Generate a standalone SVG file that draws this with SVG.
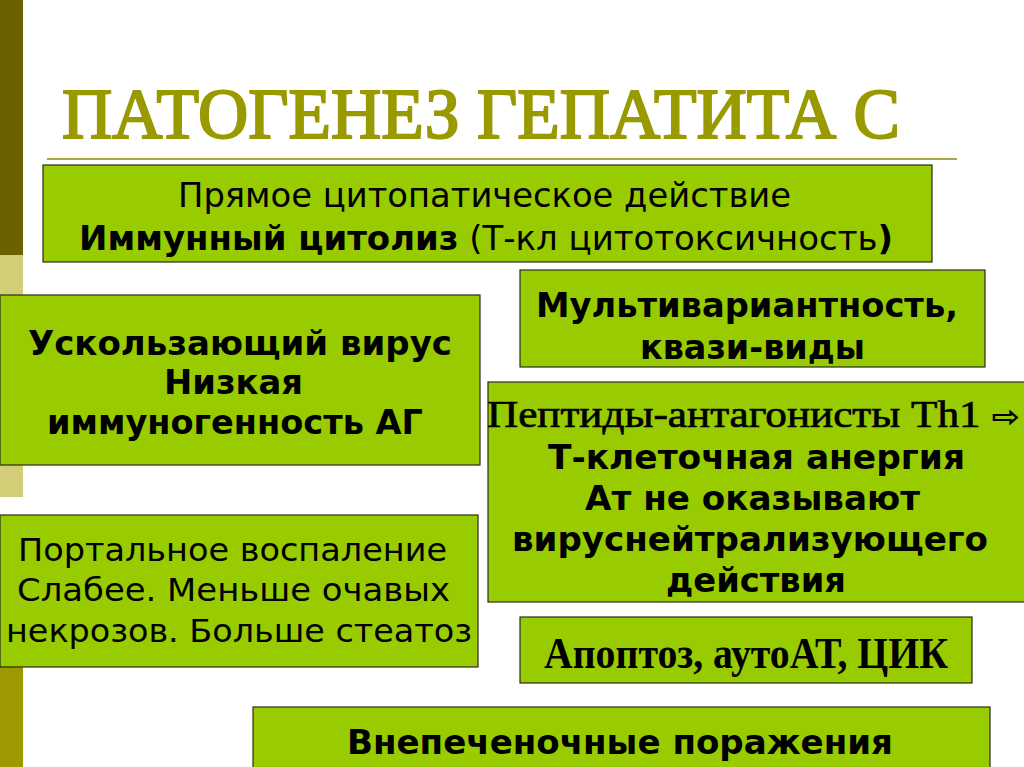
<svg xmlns="http://www.w3.org/2000/svg" width="1024" height="767" viewBox="0 0 1024 767">
<style>
.box{fill:#99cc00;stroke:#2b2b1a;stroke-width:1.2}
.s{font-family:"DejaVu Sans","Liberation Sans",sans-serif;fill:#000}
.b{font-weight:bold}
.t{font-family:"Liberation Serif","DejaVu Serif",serif;fill:#000}
</style>
<rect x="0" y="0" width="1024" height="767" fill="#ffffff"/>
<g id="leftbar">
<rect x="0" y="0" width="23" height="255" fill="#6b6100"/>
<rect x="0" y="255" width="23" height="242" fill="#d2ce78"/>
<rect x="0" y="667" width="23" height="100" fill="#9c9a00"/>
</g>
<g id="title">
<text x="62" y="138" font-family="Liberation Serif,serif" font-size="71" fill="#999900" stroke="#999900" stroke-width="2" textLength="838" lengthAdjust="spacingAndGlyphs">ПАТОГЕНЕЗ ГЕПАТИТА С</text>
<line x1="47" y1="159" x2="957" y2="159" stroke="#a9a54a" stroke-width="2"/>
</g>
<g id="connectors"></g>
<g id="nodeA">
<rect class="box" x="43" y="165" width="889" height="97"/>
<text class="s" x="178" y="207" font-size="33" textLength="613" lengthAdjust="spacingAndGlyphs">Прямое цитопатическое действие</text>
<text class="s" x="79" y="250" font-size="33" textLength="814" lengthAdjust="spacingAndGlyphs"><tspan font-weight="bold">Иммунный цитолиз</tspan> (Т-кл цитотоксичность<tspan font-weight="bold">)</tspan></text>
</g>
<g id="nodeB">
<rect class="box" x="520" y="270" width="465" height="97"/>
<text class="s b" x="536" y="317" font-size="33" textLength="422" lengthAdjust="spacingAndGlyphs">Мультивариантность,</text>
<text class="s b" x="640" y="359" font-size="33" textLength="225" lengthAdjust="spacingAndGlyphs">квази-виды</text>
</g>
<g id="nodeC">
<rect class="box" x="0" y="295" width="480" height="170"/>
<text class="s b" x="28" y="355" font-size="33" textLength="424" lengthAdjust="spacingAndGlyphs">Ускользающий вирус</text>
<text class="s b" x="164" y="394" font-size="33" textLength="139" lengthAdjust="spacingAndGlyphs">Низкая</text>
<text class="s b" x="47" y="434" font-size="33" textLength="376" lengthAdjust="spacingAndGlyphs">иммуногенность АГ</text>
</g>
<g id="nodeD">
<rect class="box" x="488" y="382" width="540" height="220"/>
<text class="t" x="487" y="427" font-size="38" stroke="#000" stroke-width="0.7" textLength="533" lengthAdjust="spacingAndGlyphs">Пептиды-антагонисты Th1 <tspan font-family="DejaVu Sans,sans-serif" font-size="30" font-weight="bold" stroke-width="0">⇨</tspan></text>
<text class="s b" x="548" y="469" font-size="33" textLength="417" lengthAdjust="spacingAndGlyphs">Т-клеточная анергия</text>
<text class="s b" x="585" y="510" font-size="33" textLength="335" lengthAdjust="spacingAndGlyphs">Ат не оказывают</text>
<text class="s b" x="512" y="551" font-size="33" textLength="476" lengthAdjust="spacingAndGlyphs">вируснейтрализующего</text>
<text class="s b" x="666" y="592" font-size="33" textLength="180" lengthAdjust="spacingAndGlyphs">действия</text>
</g>
<g id="nodeE">
<rect class="box" x="0" y="515" width="478" height="152"/>
<text class="s" x="18" y="561" font-size="32" textLength="429" lengthAdjust="spacingAndGlyphs">Портальное воспаление</text>
<text class="s" x="17" y="601" font-size="32" textLength="433" lengthAdjust="spacingAndGlyphs">Слабее. Меньше очавых</text>
<text class="s" x="6" y="642" font-size="32" textLength="466" lengthAdjust="spacingAndGlyphs">некрозов. Больше стеатоз</text>
</g>
<g id="nodeF">
<rect class="box" x="520" y="617" width="452" height="66"/>
<text class="t" x="544" y="668" font-size="44" font-weight="bold" textLength="404" lengthAdjust="spacingAndGlyphs">Апоптоз, аутоАТ, ЦИК</text>
</g>
<g id="nodeG">
<rect class="box" x="253" y="707" width="737" height="70"/>
<text class="s b" x="347" y="754" font-size="34" textLength="546" lengthAdjust="spacingAndGlyphs">Внепеченочные поражения</text>
</g>
</svg>
